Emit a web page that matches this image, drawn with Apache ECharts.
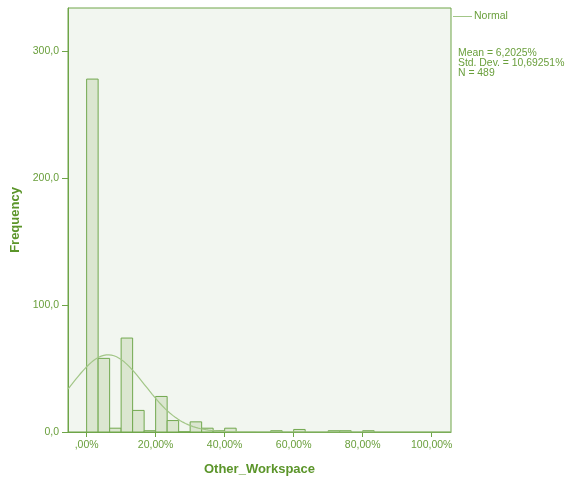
<!DOCTYPE html>
<html>
<head>
<meta charset="utf-8">
<script src="https://cdn.jsdelivr.net/npm/echarts@6/dist/echarts.min.js"></script>
<style>
  html, body { margin: 0; padding: 0; background: #ffffff; }
  #chart { width: 572px; height: 482px; }
</style>
</head>
<body>
<div id="chart"></div>
<script>
// Histogram of Other_Workspace (percent), bins of width 100/30 %
const binWidth = 100 / 30;
const binStarts = [0, 1, 2, 3, 4, 5, 6, 7, 8, 9, 10, 11, 12, 16, 18, 21, 22, 24];   // bin index
const binCounts = [278, 58, 3, 74, 17, 1, 28, 9, 0, 8, 3, 1, 3, 1, 2, 1, 1, 1];

// Summary statistics shown beside the plot
const meanValue = 6.2025;
const stdDev = 10.69251;
const nCases = 489;

const xTicks = [0, 20, 40, 60, 80, 100];
const xTickLabels = [',00%', '20,00%', '40,00%', '60,00%', '80,00%', '100,00%'];
const yTicks = [0, 100, 200, 300];
const yTickLabels = ['0,0', '100,0', '200,0', '300,0'];

const xMin = -5.4, xMax = 105.6, yMax = 334;

const green = '#6ea548';
const textGreen = '#6a9f3c';
const titleGreen = '#5b952a';
const font = 'Liberation Sans, Arial, sans-serif';

const barData = binStarts.map((b, i) => [b * binWidth, (b + 1) * binWidth, binCounts[i]]);

// Fitted normal curve, scaled to counts per bin
const curve = [];
const steps = 300;
for (let i = 0; i <= steps; i++) {
  const x = xMin + (xMax - xMin) * i / steps;
  const z = (x - meanValue) / stdDev;
  const y = nCases * binWidth / (stdDev * Math.sqrt(2 * Math.PI)) * Math.exp(-0.5 * z * z);
  curve.push([x, y]);
}

const chart = echarts.init(document.getElementById('chart'), null, { renderer: 'canvas' });
chart.setOption({
  animation: false,
  backgroundColor: '#ffffff',
  grid: {
    left: 68, top: 8, right: 121, bottom: 50,
    show: true, backgroundColor: '#f2f6f0', borderColor: green, borderWidth: 1
  },
  xAxis: {
    type: 'value', min: xMin, max: xMax,
    name: 'Other_Workspace', nameLocation: 'middle', nameGap: 31,
    nameTextStyle: { color: titleGreen, fontFamily: font, fontSize: 13, fontWeight: 'bold' },
    axisLine: { show: true, onZero: false, lineStyle: { color: green, width: 1 } },
    axisTick: { show: true, length: 5, customValues: xTicks, lineStyle: { color: green } },
    axisLabel: {
      customValues: xTicks, color: textGreen, fontFamily: font, fontSize: 10.5, margin: 8,
      formatter: v => xTickLabels[xTicks.indexOf(v)] || ''
    },
    splitLine: { show: false }
  },
  yAxis: {
    type: 'value', min: 0, max: yMax,
    name: 'Frequency', nameLocation: 'middle', nameGap: 42, nameRotate: 90,
    nameTextStyle: { color: titleGreen, fontFamily: font, fontSize: 13, fontWeight: 'bold' },
    axisLine: { show: true, onZero: false, lineStyle: { color: green, width: 1 } },
    axisTick: { show: true, length: 6, customValues: yTicks, lineStyle: { color: green } },
    axisLabel: {
      customValues: yTicks, color: textGreen, fontFamily: font, fontSize: 10.5, margin: 9,
      formatter: v => yTickLabels[yTicks.indexOf(v)] || ''
    },
    splitLine: { show: false }
  },
  legend: {
    show: true, data: [{ name: 'Normal' }], left: 453, top: 11, padding: 0,
    icon: 'rect', itemWidth: 19, itemHeight: 1, itemGap: 2,
    textStyle: { color: textGreen, fontFamily: font, fontSize: 10.5, padding: [0, 0, 0, -3] }
  },
  graphic: [{
    type: 'text', left: 458, top: 48,
    style: {
      text: 'Mean = 6,2025%\nStd. Dev. = 10,69251%\nN = 489',
      fill: textGreen, font: '10.4px ' + font, lineHeight: 10
    }
  }],
  series: [{
    type: 'custom',
    name: 'Histogram',
    data: barData,
    encode: { x: [0, 1], y: 2 },
    renderItem: function (params, api) {
      const p0 = api.coord([api.value(0), 0]);
      const p1 = api.coord([api.value(1), api.value(2)]);
      return {
        type: 'rect',
        shape: { x: p0[0], y: p1[1], width: p1[0] - p0[0], height: p0[1] - p1[1] },
        style: { fill: '#dbe6d0', stroke: '#72a84f', lineWidth: 1 }
      };
    },
    z: 2
  }, {
    type: 'line',
    name: 'Normal',
    data: curve,
    showSymbol: false,
    smooth: false,
    color: '#a2c687',
    lineStyle: { color: '#a2c687', width: 1.2 },
    z: 3
  }]
});
</script>
</body>
</html>
